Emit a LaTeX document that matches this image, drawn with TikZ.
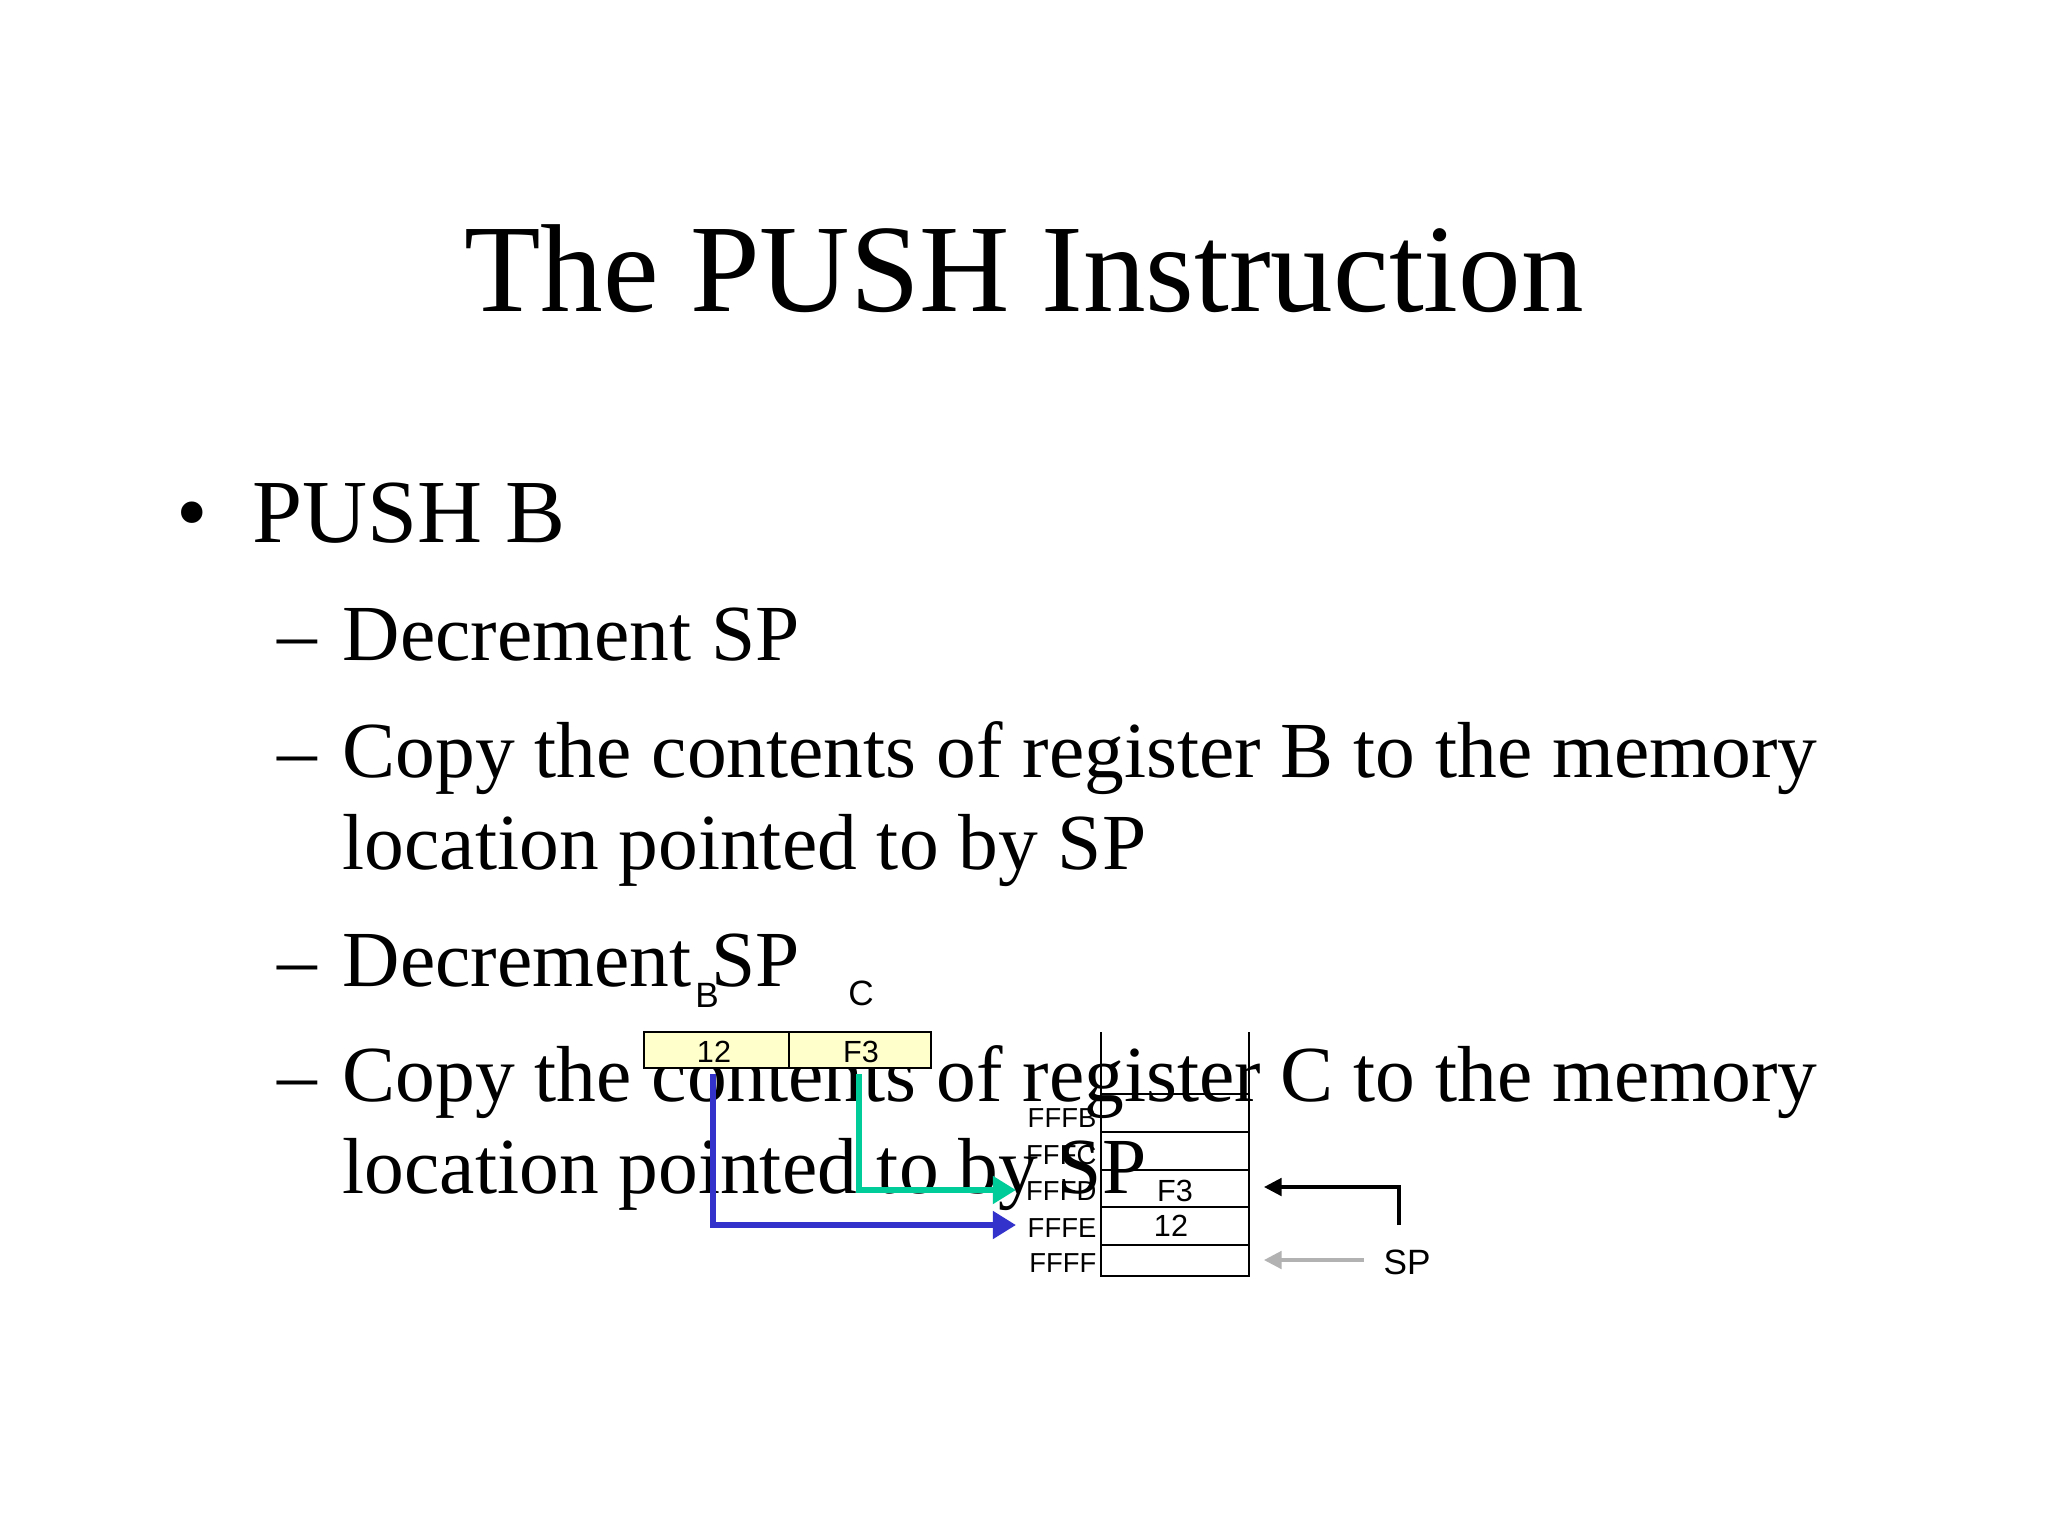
\documentclass[tikz,border=0pt]{standalone}
\usepackage{fontspec}
\usetikzlibrary{arrows.meta}
\setmainfont{Liberation Serif}
\newfontfamily\arial{Liberation Sans}
\definecolor{bblue}{RGB}{51,51,204}
\definecolor{bgreen}{RGB}{0,204,153}
\definecolor{regfill}{RGB}{255,255,204}
\begin{document}
\begin{tikzpicture}[x=0.01cm,y=-0.01cm,
  body/.style={anchor=base west,inner sep=0,font=\fontsize{22.6}{26}\selectfont},
  lbl/.style={font=\arial\fontsize{7.8}{9}\selectfont,inner sep=0},
  val/.style={font=\arial\fontsize{8.7}{10}\selectfont,inner sep=0},
  big/.style={font=\arial\fontsize{10}{12}\selectfont,inner sep=0},
  fat/.style={line width=1.8pt,-{Triangle[length=6.6pt,width=7.6pt]}}]
\useasboundingbox (0,0) rectangle (2048,1536);
\fill[white] (0,0) rectangle (2048,1536);
\node[anchor=base,inner sep=0,font=\fontsize{35.6}{40}\selectfont] (title) at (1024,311) {The PUSH Instruction};
\node[anchor=base,inner sep=0,font=\fontsize{25.6}{28}\selectfont] (bul) at (192,542) {•};
\node[anchor=base west,inner sep=0,font=\fontsize{25.6}{28}\selectfont] (push) at (252,542) {PUSH B};
\foreach \y/\t [count=\i] in {660/Decrement SP,777/Copy the contents of register B to the memory,986/Decrement SP,1101/Copy the contents of register C to the memory}{
  \node[body] (d\i) at (277,\y) {–};
  \node[body] (t\i) at (342,\y) {\t};}
\node[body] (t2b) at (342,869) {location pointed to by SP};
\node[body] (t4b) at (342,1193) {location pointed to by SP};
% registers
\draw[fill=regfill,line width=0.8pt] (644,1032) rectangle (931,1068);
\draw[line width=0.8pt] (789,1032) -- (789,1068);
\node[val] (rb) at (714,1052) {12};
\node[val] (rc) at (861,1052) {F3};
\node[big] (lb) at (707,995) {B};
\node[big] (lc) at (861,993) {C};
% stack
\draw[line width=0.8pt] (1101,1032) -- (1101,1276) -- (1249,1276) -- (1249,1032);
\foreach \y in {1094,1132,1170,1207,1245} \draw[line width=0.8pt] (1101,\y) -- (1249,\y);
\foreach \y/\t in {1118/FFFB,1155/FFFC,1191/FFFD,1228/FFFE,1263/FFFF}
  \node[lbl,anchor=east] (m\t) at (1097,\y) {\t};
\node[val] (v1) at (1175,1191) {F3};
\node[val] (v2) at (1171,1226) {12};
% arrows
\coordinate (bs) at (713,1074); \coordinate (be) at (1016,1225);
\coordinate (cs) at (859,1074); \coordinate (ce) at (1016,1190);
\draw[fat,draw=bblue] (bs) |- (be);
\draw[fat,draw=bgreen] (cs) |- (ce);
\node[big] (sp) at (1407,1262) {SP};
\coordinate (ns) at (1399,1225); \coordinate (ne) at (1264,1187);
\draw[line width=0.9pt,-{Triangle[length=5pt,width=5pt]}] (ns) |- (ne);
\coordinate (gs) at (1364,1260); \coordinate (ge) at (1264,1260);
\draw[line width=0.9pt,gray!60,-{Triangle[length=5pt,width=5pt]}] (gs) -- (ge);
\end{tikzpicture}
\end{document}
